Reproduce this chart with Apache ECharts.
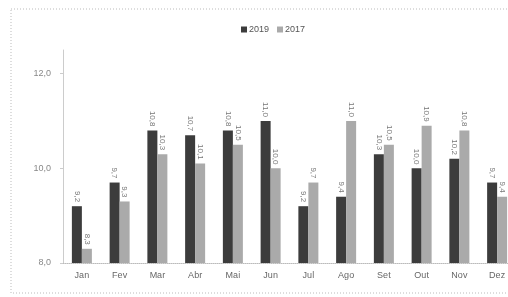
<!DOCTYPE html>
<html>
<head>
<meta charset="utf-8">
<script src="https://cdn.jsdelivr.net/npm/echarts@6/dist/echarts.min.js"></script>
<style>
  html, body { margin: 0; padding: 0; background: #fff; }
  #chartId { width: 508px; height: 297px; }
</style>
</head>
<body>
<div id="chartId"></div>
<script>
// meses e valores
var months = ['Jan', 'Fev', 'Mar', 'Abr', 'Mai', 'Jun', 'Jul', 'Ago', 'Set', 'Out', 'Nov', 'Dez'];
var serie2019 = [9.2, 9.7, 10.8, 10.7, 10.8, 11.0, 9.2, 9.4, 10.3, 10.0, 10.2, 9.7];
var serie2017 = [8.3, 9.3, 10.3, 10.1, 10.5, 10.0, 9.7, 11.0, 10.5, 10.9, 10.8, 9.4];

var fmt = function (v) { return Number(v).toFixed(1).replace('.', ','); };

var label = {
    show: true,
    position: 'top',
    rotate: -90,
    align: 'right',
    verticalAlign: 'middle',
    distance: 4,
    fontSize: 8,
    color: '#777',
    fontFamily: 'Liberation Sans',
    formatter: function (p) { return fmt(p.value); }
};

var chart = echarts.init(document.getElementById('chartId'));
chart.setOption({
    animation: false,
    textStyle: { fontFamily: 'Liberation Sans' },
    graphic: [{
        type: 'rect',
        shape: { x: 11, y: 9, width: 620, height: 284 },
        style: { fill: 'none', stroke: '#bbb', lineWidth: 1, lineDash: [1, 2] },
        silent: true
    }],
    legend: {
        top: 20,
        left: 236,
        itemWidth: 6,
        itemHeight: 6,
        itemGap: 8,
        icon: 'rect',
        textStyle: { fontSize: 9, color: '#555', padding: [0, 0, 0, -3] },
        data: ['2019', '2017']
    },
    grid: { left: 63, top: 50, width: 453, bottom: 34, outerBoundsMode: 'none' },
    xAxis: {
        type: 'category',
        data: months,
        axisLine: { lineStyle: { color: '#bbb', type: 'dotted' } },
        axisTick: { show: false },
        axisLabel: { fontSize: 9, color: '#666', margin: 8 }
    },
    yAxis: {
        type: 'value',
        min: 8,
        max: 12.5,
        interval: 2,
        axisLine: { show: true, lineStyle: { color: '#ccc' } },
        axisTick: { show: true, length: 3, lineStyle: { color: '#ccc' } },
        splitLine: { show: false },
        axisLabel: { fontSize: 9, color: '#888', margin: 12, showMaxLabel: false, formatter: fmt }
    },
    series: [
        {
            name: '2019', type: 'bar', data: serie2019, barWidth: 10, barGap: '0%',
            itemStyle: { color: '#3c3c3c' }, label: label
        },
        {
            name: '2017', type: 'bar', data: serie2017, barWidth: 10,
            itemStyle: { color: '#aaaaaa' }, label: label
        }
    ]
});
</script>
</body>
</html>
